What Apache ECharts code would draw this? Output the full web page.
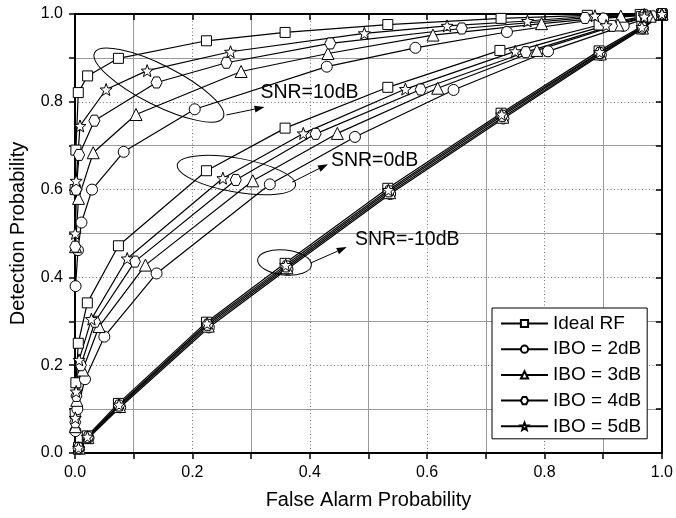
<!DOCTYPE html>
<html>
<head>
<meta charset="utf-8">
<script src="https://cdn.jsdelivr.net/npm/echarts@6/dist/echarts.min.js"></script>
<style>
html,body{margin:0;padding:0;background:#fff}
#data_show{width:676px;height:518px}
</style>
</head>
<body>
<div id="data_show"></div>
<script>
// names shown in legend
var series_names = ['Ideal RF', 'IBO = 2dB', 'IBO = 3dB', 'IBO = 4dB', 'IBO = 5dB'];

// [false alarm, detection] pairs, SNR = 10dB
var ideal_snr10 = [[0.0003,0.60],[0.0015,0.69],[0.0056,0.821],[0.0215,0.859],[0.074,0.899],[0.224,0.939],[0.358,0.958],[0.533,0.976],[0.726,0.990],[0.873,0.997],[0.963,0.999],[1,1]];
var ibo2_snr10 = [[0.001,0.38],[0.005,0.462],[0.011,0.525],[0.029,0.600],[0.083,0.686],[0.204,0.783],[0.429,0.880],[0.580,0.923],[0.736,0.959],[0.900,0.990],[1,1]];
var ibo3_snr10 = [[0.0008,0.47],[0.006,0.58],[0.031,0.684],[0.104,0.771],[0.283,0.869],[0.431,0.910],[0.610,0.952],[0.795,0.978],[0.930,0.995],[1,1]];
var ibo4_snr10 = [[0.0004,0.47],[0.002,0.60],[0.007,0.679],[0.033,0.757],[0.139,0.844],[0.258,0.889],[0.435,0.933],[0.659,0.967],[0.869,0.991],[0.970,0.998],[1,1]];
var ibo5_snr10 = [[0.0003,0.50],[0.002,0.62],[0.0085,0.745],[0.053,0.828],[0.123,0.871],[0.265,0.914],[0.493,0.956],[0.634,0.973],[0.771,0.984],[0.886,0.996],[0.970,0.999],[1,1]];

// SNR = 0dB
var ideal_snr0 = [[0.0003,0.09],[0.0015,0.16],[0.0056,0.250],[0.021,0.342],[0.074,0.472],[0.224,0.643],[0.358,0.740],[0.533,0.833],[0.724,0.917],[0.893,0.975],[0.965,0.994],[1,1]];
var ibo2_snr0 = [[0.0008,0.05],[0.004,0.10],[0.017,0.168],[0.050,0.265],[0.139,0.409],[0.332,0.612],[0.477,0.720],[0.645,0.827],[0.806,0.915],[0.935,0.973],[0.985,0.995],[1,1]];
var ibo3_snr0 = [[0.0006,0.06],[0.003,0.12],[0.013,0.189],[0.041,0.288],[0.120,0.428],[0.303,0.620],[0.447,0.728],[0.618,0.831],[0.787,0.917],[0.925,0.975],[0.980,0.995],[1,1]];
var ibo4_snr0 = [[0.0005,0.07],[0.0025,0.13],[0.010,0.200],[0.034,0.299],[0.102,0.436],[0.274,0.622],[0.410,0.727],[0.589,0.828],[0.768,0.913],[0.915,0.973],[0.975,0.994],[1,1]];
var ibo5_snr0 = [[0.0005,0.08],[0.002,0.14],[0.007,0.212],[0.028,0.305],[0.089,0.443],[0.252,0.626],[0.389,0.728],[0.563,0.829],[0.750,0.915],[0.905,0.974],[0.970,0.994],[1,1]];

// SNR = -10dB
var ideal_snrm10 = [[0.006,0.013],[0.021,0.039],[0.074,0.113],[0.224,0.298],[0.358,0.432],[0.533,0.603],[0.726,0.774],[0.893,0.916],[0.966,0.972],[1,1]];
var ibo2_snrm10 = [[0.007,0.010],[0.023,0.034],[0.077,0.104],[0.228,0.286],[0.362,0.419],[0.537,0.590],[0.730,0.762],[0.896,0.907],[0.968,0.967],[1,1]];
var ibo3_snrm10 = [[0.007,0.011],[0.022,0.035],[0.076,0.106],[0.227,0.289],[0.361,0.422],[0.536,0.593],[0.729,0.765],[0.895,0.909],[0.967,0.968],[1,1]];
var ibo4_snrm10 = [[0.006,0.011],[0.022,0.036],[0.075,0.108],[0.226,0.292],[0.360,0.425],[0.535,0.596],[0.728,0.768],[0.894,0.911],[0.967,0.969],[1,1]];
var ibo5_snrm10 = [[0.006,0.012],[0.021,0.037],[0.075,0.110],[0.225,0.295],[0.359,0.428],[0.534,0.599],[0.727,0.771],[0.894,0.913],[0.966,0.970],[1,1]];

// axis ticks
var axis_min = 0, axis_max = 1, label_step = 0.2;

var font = 'Liberation Sans, Arial, sans-serif';
var star_path = 'path://M0,-1L0.247,-0.34L0.951,-0.309L0.399,0.13L0.588,0.809L0,0.42L-0.588,0.809L-0.399,0.13L-0.951,-0.309L-0.247,-0.34Z';
var hex_path = 'path://M-1,0L-0.5,-0.866L0.5,-0.866L1,0L0.5,0.866L-0.5,0.866Z';

var groups = [
	{name: series_names[0], symbol: 'rect', size: 10, curves: [ideal_snr10, ideal_snr0, ideal_snrm10]},
	{name: series_names[1], symbol: 'circle', size: 11, curves: [ibo2_snr10, ibo2_snr0, ibo2_snrm10]},
	{name: series_names[2], symbol: 'triangle', size: 12, curves: [ibo3_snr10, ibo3_snr0, ibo3_snrm10]},
	{name: series_names[3], symbol: hex_path, size: 11, curves: [ibo4_snr10, ibo4_snr0, ibo4_snrm10]},
	{name: series_names[4], symbol: star_path, size: 12, curves: [ibo5_snr10, ibo5_snr0, ibo5_snrm10]}
];

var series = [];
groups.forEach(function(g){
	g.curves.forEach(function(c){
		series.push({
			name: g.name,
			type: 'line',
			data: c,
			symbol: g.symbol,
			symbolSize: g.size,
			showAllSymbol: true,
			lineStyle: {color: '#000', width: 1.2},
			itemStyle: {color: '#fff', borderColor: '#000', borderWidth: 1}
		});
	});
});

function main_axis(pos, name, nameGap){
	return {
		type: 'value', position: pos, min: axis_min, max: axis_max, interval: label_step,
		name: name, nameLocation: 'middle', nameGap: nameGap,
		nameTextStyle: {fontFamily: font, fontSize: 20, color: '#000'},
		axisLine: {show: true, onZero: false, lineStyle: {color: '#000', width: 2}},
		axisTick: {show: true, inside: false, length: 6, lineStyle: {color: '#000', width: 1.5}},
		minorTick: {show: true, splitNumber: 2, length: 6, lineStyle: {color: '#000', width: 1.5}},
		axisLabel: {fontFamily: font, fontSize: 16, color: '#000', margin: 12, formatter: function(v){ return v.toFixed(1); }},
		splitLine: {show: true, lineStyle: {color: '#777', type: [1, 2.5], width: 1}},
		minorSplitLine: {show: true, lineStyle: {color: '#999', width: 1}}
	};
}

function side_axis(pos){
	return {
		type: 'value', position: pos, min: axis_min, max: axis_max, interval: label_step,
		axisLine: {show: true, onZero: false, lineStyle: {color: '#000', width: 2}},
		axisTick: {show: true, inside: true, length: 6, lineStyle: {color: '#000', width: 1.5}},
		minorTick: {show: true, splitNumber: 2, length: 6, lineStyle: {color: '#000', width: 1.5}},
		axisLabel: {show: false},
		splitLine: {show: false}
	};
}

var chart = echarts.init(document.getElementById('data_show'));
var option = {
	animation: false,
	backgroundColor: '#fff',
	grid: {left: 75, top: 14, right: 11, bottom: 65, containLabel: false},
	legend: {
		data: series_names,
		orient: 'vertical',
		left: 492, top: 308,
		backgroundColor: '#fff',
		borderColor: '#000', borderWidth: 1,
		padding: [6, 6, 3, 8],
		itemWidth: 47, itemHeight: 9, itemGap: 6.7,
		textStyle: {fontFamily: font, fontSize: 19, color: '#000'}
	},
	xAxis: [main_axis('bottom', 'False Alarm Probability', 37), side_axis('top')],
	yAxis: [main_axis('left', 'Detection Probability', 47), side_axis('right')],
	series: series
};
chart.setOption(option);

// annotations: ellipse, arrow, text, placed in data coords
var notes = [
	{c: [0.143, 0.838], rx: 72, ry: 20, rot: -26.7, a0: [0.258, 0.770], a1: [0.323, 0.788], t: [0.316, 0.820], text: 'SNR=10dB'},
	{c: [0.275, 0.633], rx: 60, ry: 17, rot: -10, a0: [0.370, 0.617], a1: [0.431, 0.658], t: [0.436, 0.667], text: 'SNR=0dB'},
	{c: [0.357, 0.434], rx: 27, ry: 12.5, rot: -6, a0: [0.402, 0.433], a1: [0.463, 0.469], t: [0.477, 0.485], text: 'SNR=-10dB'}
];

function px(p){
	return chart.convertToPixel({xAxisIndex: 0, yAxisIndex: 0}, p);
}

var elements = [];
notes.forEach(function(n){
	var c = px(n.c), a0 = px(n.a0), a1 = px(n.a1), t = px(n.t);
	elements.push({
		type: 'ellipse', x: c[0], y: c[1], rotation: n.rot * Math.PI / 180,
		shape: {cx: 0, cy: 0, rx: n.rx, ry: n.ry},
		style: {fill: 'none', stroke: '#000', lineWidth: 1}, z: 100
	});
	var ang = Math.atan2(a1[1] - a0[1], a1[0] - a0[0]);
	var hl = 10, hw = 3.5;
	var bx = a1[0] - hl * Math.cos(ang), by = a1[1] - hl * Math.sin(ang);
	elements.push({
		type: 'line', shape: {x1: a0[0], y1: a0[1], x2: bx, y2: by},
		style: {stroke: '#000', lineWidth: 1}, z: 100
	});
	elements.push({
		type: 'polygon',
		shape: {points: [[a1[0], a1[1]], [bx + hw * Math.sin(ang), by - hw * Math.cos(ang)], [bx - hw * Math.sin(ang), by + hw * Math.cos(ang)]]},
		style: {fill: '#000'}, z: 100
	});
	elements.push({
		type: 'text', x: t[0], y: t[1],
		style: {text: n.text, fontFamily: font, fontSize: 19.5, fill: '#000', verticalAlign: 'middle', align: 'left'}, z: 100
	});
});
chart.setOption({graphic: {elements: elements}});
</script>
</body>
</html>
